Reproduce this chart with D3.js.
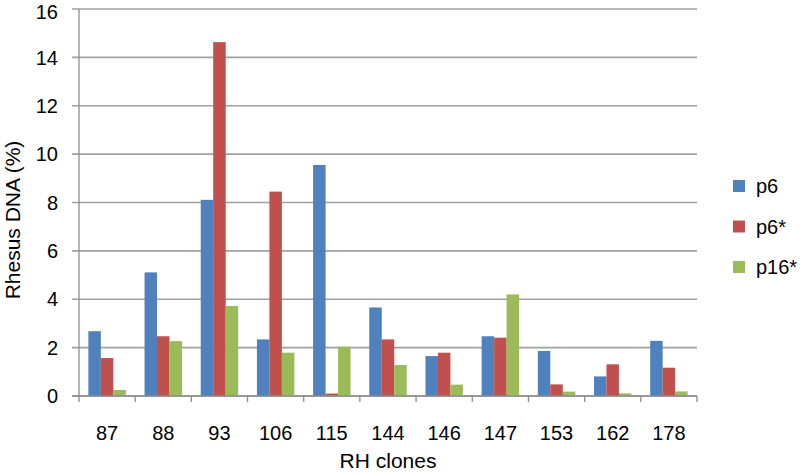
<!DOCTYPE html>
<html>
<head>
<meta charset="utf-8">
<script src="https://cdn.jsdelivr.net/npm/d3@7"></script>
<style>
  body { margin: 0; background: #fff; }
  text { font-family: "Liberation Sans", Arial, sans-serif; fill: #000; }
</style>
</head>
<body>
<div id="chart"></div>
<script>
// data
var clones = ["87", "88", "93", "106", "115", "144", "146", "147", "153", "162", "178"];
var p6     = [2.68, 5.11, 8.11, 2.34, 9.55, 3.66, 1.65, 2.47, 1.86, 0.81, 2.28];
var p6s    = [1.57, 2.47, 14.63, 8.45, 0.10, 2.34, 1.79, 2.41, 0.48, 1.31, 1.17];
var p16s   = [0.25, 2.27, 3.72, 1.79, 2.04, 1.28, 0.47, 4.20, 0.18, 0.11, 0.19];
var seriesNames = ["p6", "p6*", "p16*"];
var seriesColors = ["#4f81bd", "#c0504d", "#9bbb59"];
var yTicks = [0, 2, 4, 6, 8, 10, 12, 14, 16];

var width = 800, height = 473;
var margin = {top: 9, left: 79, right: 103, bottom: 77};
var plotW = width - margin.left - margin.right,
    plotH = height - margin.top - margin.bottom;

var svg = d3.select("#chart")
  .append("svg")
    .attr("width", width)
    .attr("height", height);

var g = svg.append("g")
  .attr("transform", "translate(" + margin.left + "," + margin.top + ")");

var x = d3.scaleBand()
  .domain(clones)
  .range([0, plotW]);

// excel style: 150% gap between groups
var x1 = d3.scaleBand()
  .domain(seriesNames)
  .range([x.bandwidth() * 0.75 / 4.5, x.bandwidth() * (1 - 0.75 / 4.5)]);

var y = d3.scaleLinear()
  .domain([0, 16])
  .range([plotH, 0]);

// gridlines + y ticks
g.append("g")
  .selectAll("line")
  .data(yTicks)
  .enter()
  .append("line")
    .attr("x1", -7)
    .attr("x2", plotW)
    .attr("y1", function(d) { return y(d); })
    .attr("y2", function(d) { return y(d); })
    .attr("stroke", "#a0a0a0")
    .attr("stroke-width", 1.6);

// top label is kept just inside the page edge
g.append("g")
  .selectAll("text")
  .data(yTicks)
  .enter()
  .append("text")
    .attr("x", -21)
    .attr("y", function(d) { return Math.max(y(d) + 7.2, 19 - margin.top); })
    .attr("text-anchor", "end")
    .style("font-size", "20px")
    .text(function(d) { return d; });

// bars
var rows = clones.map(function(c, i) {
  return {clone: c, values: [p6[i], p6s[i], p16s[i]]};
});

var groups = g.selectAll(".grp")
  .data(rows)
  .enter()
  .append("g")
    .attr("class", "grp")
    .attr("transform", function(d) { return "translate(" + x(d.clone) + ",0)"; });

groups.selectAll("rect")
  .data(function(d) { return d.values; })
  .enter()
  .append("rect")
    .attr("x", function(d, i) { return x1(seriesNames[i]); })
    .attr("y", function(d) { return y(d); })
    .attr("width", x1.bandwidth())
    .attr("height", function(d) { return plotH - y(d); })
    .attr("fill", function(d, i) { return seriesColors[i]; });

// axes lines
g.append("line")
  .attr("x1", 0).attr("x2", 0)
  .attr("y1", 0).attr("y2", plotH)
  .attr("stroke", "#8c8c8c")
  .attr("stroke-width", 1.3);

var xAxis = g.append("g")
  .attr("transform", "translate(0," + plotH + ")");

xAxis.append("line")
  .attr("x1", -7).attr("x2", plotW)
  .attr("stroke", "#8c8c8c")
  .attr("stroke-width", 1.6);

xAxis.selectAll(".tk")
  .data(d3.range(clones.length + 1))
  .enter()
  .append("line")
    .attr("x1", function(i) { return i * x.step(); })
    .attr("x2", function(i) { return i * x.step(); })
    .attr("y1", 0)
    .attr("y2", 6)
    .attr("stroke", "#8c8c8c")
    .attr("stroke-width", 1.3);

xAxis.selectAll(".lbl")
  .data(clones)
  .enter()
  .append("text")
    .attr("x", function(d) { return x(d) + x.bandwidth() / 2; })
    .attr("y", 44)
    .attr("text-anchor", "middle")
    .style("font-size", "20px")
    .text(function(d) { return d; });

// axis titles
svg.append("text")
  .attr("x", margin.left + plotW / 2)
  .attr("y", 468)
  .attr("text-anchor", "middle")
  .style("font-size", "21px")
  .text("RH clones");

svg.append("text")
  .attr("transform", "translate(20,220) rotate(-90)")
  .attr("text-anchor", "middle")
  .style("font-size", "21px")
  .text("Rhesus DNA (%)");

// legend
var legend = svg.append("g")
  .attr("transform", "translate(733,180)");

var items = legend.selectAll(".li")
  .data(seriesNames)
  .enter()
  .append("g")
    .attr("transform", function(d, i) { return "translate(0," + (i * 40.5) + ")"; });

items.append("rect")
  .attr("width", 12)
  .attr("height", 12)
  .attr("fill", function(d, i) { return seriesColors[i]; });

items.append("text")
  .attr("x", 23)
  .attr("y", 6)
  .attr("dy", "0.36em")
  .style("font-size", "20px")
  .text(function(d) { return d; });
</script>
</body>
</html>
